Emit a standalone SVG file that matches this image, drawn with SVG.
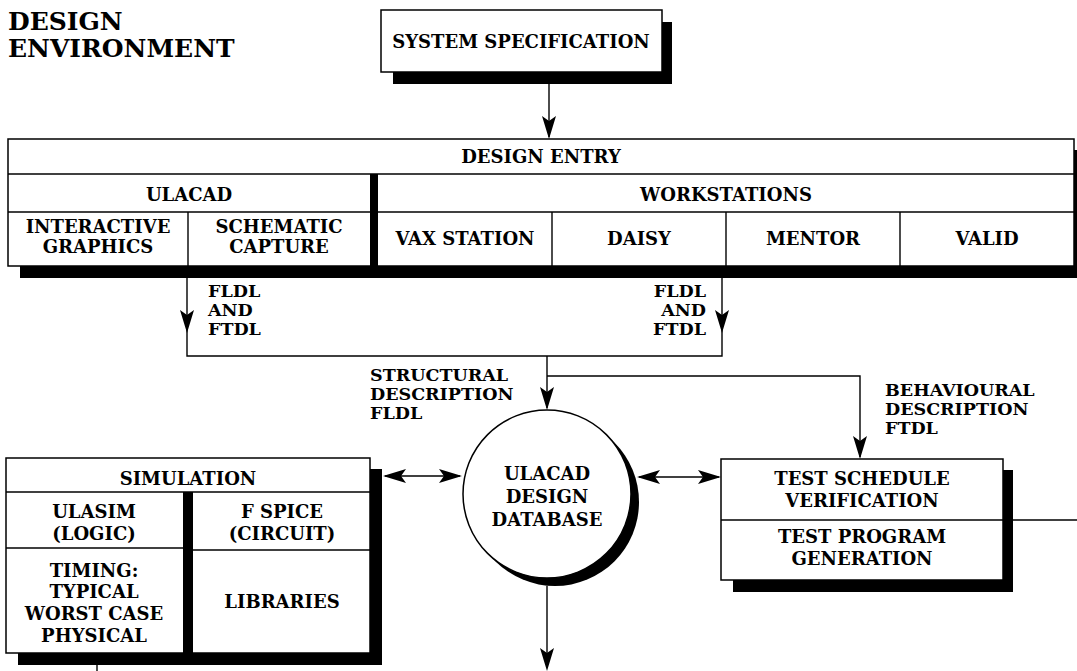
<svg xmlns="http://www.w3.org/2000/svg" xmlns:xlink="http://www.w3.org/1999/xlink" width="1077" height="671" viewBox="0 0 1077 671">
<style>
  .t{font-family:"DejaVu Serif","Liberation Serif",serif;font-weight:bold;font-size:18px;fill:#000}
  .l{font-size:17.5px}
  .c{text-anchor:middle}
  .e{text-anchor:end}
  .title{font-size:25px}
  .box{fill:#fff;stroke:#000;stroke-width:1.5}
  .ln{fill:none;stroke:#000;stroke-width:1.4}
  .sh{fill:#000;stroke:none}
</style>
<defs>
  <path id="ah" d="M0,0 L-23,-7 L-18,0 L-23,7 Z" fill="#000"/>
</defs>
<rect width="1077" height="671" fill="#fff"/>

<g id="title">
  <text class="t title" x="8" y="30">DESIGN</text>
  <text class="t title" x="8" y="57">ENVIRONMENT</text>
</g>

<g id="system-specification">
  <rect class="sh" x="393" y="22" width="279" height="62"/>
  <rect class="box" x="381" y="10" width="281" height="62"/>
  <text class="t c" x="521" y="48">SYSTEM SPECIFICATION</text>
</g>

<g id="design-entry">
  <rect class="sh" x="20" y="150" width="1057" height="128"/>
  <rect class="box" x="8" y="139" width="1066" height="127"/>
  <line class="ln" x1="8" y1="174" x2="1074" y2="174"/>
  <line class="ln" x1="8" y1="212" x2="1074" y2="212"/>
  <rect class="sh" x="370" y="174" width="8" height="92"/>
  <line class="ln" x1="188" y1="212" x2="188" y2="266"/>
  <line class="ln" x1="552" y1="212" x2="552" y2="266"/>
  <line class="ln" x1="726" y1="212" x2="726" y2="266"/>
  <line class="ln" x1="900" y1="212" x2="900" y2="266"/>
  <text class="t c" x="541" y="163">DESIGN ENTRY</text>
  <text class="t c" x="189" y="201">ULACAD</text>
  <text class="t c" x="726" y="201">WORKSTATIONS</text>
  <text class="t c" x="98" y="233">INTERACTIVE</text>
  <text class="t c" x="98" y="253">GRAPHICS</text>
  <text class="t c" x="279" y="233">SCHEMATIC</text>
  <text class="t c" x="279" y="253">CAPTURE</text>
  <text class="t c" x="465" y="245">VAX STATION</text>
  <text class="t c" x="639" y="245">DAISY</text>
  <text class="t c" x="813" y="245">MENTOR</text>
  <text class="t c" x="987" y="245">VALID</text>
</g>

<g id="simulation">
  <rect class="sh" x="18" y="469" width="364" height="196"/>
  <rect class="box" x="6" y="458" width="364" height="195"/>
  <line class="ln" x1="6" y1="492" x2="370" y2="492"/>
  <rect class="sh" x="183" y="492" width="10" height="161"/>
  <line class="ln" x1="6" y1="548" x2="183" y2="548"/>
  <line class="ln" x1="193" y1="550" x2="370" y2="550"/>
  <text class="t c" x="188" y="485">SIMULATION</text>
  <text class="t c" x="94" y="518">ULASIM</text>
  <text class="t c" x="94" y="540">(LOGIC)</text>
  <text class="t c" x="282" y="518">F SPICE</text>
  <text class="t c" x="282" y="540">(CIRCUIT)</text>
  <text class="t c" x="94" y="577">TIMING:</text>
  <text class="t c" x="94" y="598">TYPICAL</text>
  <text class="t c" x="94" y="620">WORST CASE</text>
  <text class="t c" x="94" y="642">PHYSICAL</text>
  <text class="t c" x="282" y="608">LIBRARIES</text>
</g>

<g id="database">
  <circle class="sh" cx="555" cy="502" r="84"/>
  <circle class="box" cx="547" cy="494" r="84"/>
  <text class="t c" x="547" y="480">ULACAD</text>
  <text class="t c" x="547" y="503">DESIGN</text>
  <text class="t c" x="547" y="526">DATABASE</text>
</g>

<g id="test">
  <rect class="sh" x="733" y="470" width="280" height="122"/>
  <rect class="box" x="721" y="459" width="282" height="121"/>
  <line class="ln" x1="721" y1="520" x2="1003" y2="520"/>
  <text class="t c" x="862" y="485">TEST SCHEDULE</text>
  <text class="t c" x="862" y="507">VERIFICATION</text>
  <text class="t c" x="862" y="543">TEST PROGRAM</text>
  <text class="t c" x="862" y="565">GENERATION</text>
</g>

<g id="labels">
  <text class="t l" x="208" y="297">FLDL</text>
  <text class="t l" x="208" y="316">AND</text>
  <text class="t l" x="208" y="335">FTDL</text>
  <text class="t l e" x="706" y="297">FLDL</text>
  <text class="t l e" x="706" y="316">AND</text>
  <text class="t l e" x="706" y="335">FTDL</text>
  <text class="t l" x="370" y="381">STRUCTURAL</text>
  <text class="t l" x="370" y="400">DESCRIPTION</text>
  <text class="t l" x="370" y="419">FLDL</text>
  <text class="t l" x="885" y="396">BEHAVIOURAL</text>
  <text class="t l" x="885" y="415">DESCRIPTION</text>
  <text class="t l" x="885" y="434">FTDL</text>
</g>

<g id="connectors">
  <line class="ln" x1="549" y1="84" x2="549" y2="137"/>
  <use xlink:href="#ah" transform="translate(549,139) rotate(90)"/>
  <polyline class="ln" points="187,278 187,356 722,356 722,278"/>
  <use xlink:href="#ah" transform="translate(187,333) rotate(90)"/>
  <use xlink:href="#ah" transform="translate(722,333) rotate(90)"/>
  <line class="ln" x1="547" y1="356" x2="547" y2="408"/>
  <use xlink:href="#ah" transform="translate(547,410) rotate(90)"/>
  <polyline class="ln" points="547,376 860,376 860,457"/>
  <use xlink:href="#ah" transform="translate(860,459) rotate(90)"/>
  <line class="ln" x1="385" y1="476" x2="460" y2="476"/>
  <use xlink:href="#ah" transform="translate(383,476) rotate(180)"/>
  <use xlink:href="#ah" transform="translate(462,476)"/>
  <line class="ln" x1="639" y1="477" x2="719" y2="477"/>
  <use xlink:href="#ah" transform="translate(637,477) rotate(180)"/>
  <use xlink:href="#ah" transform="translate(721,477)"/>
  <line class="ln" x1="547" y1="586" x2="547" y2="668"/>
  <use xlink:href="#ah" transform="translate(547,671) rotate(90)"/>
  <line class="ln" x1="1013" y1="520" x2="1077" y2="520"/>
  <line class="ln" x1="97" y1="665" x2="97" y2="671"/>
</g>
</svg>
